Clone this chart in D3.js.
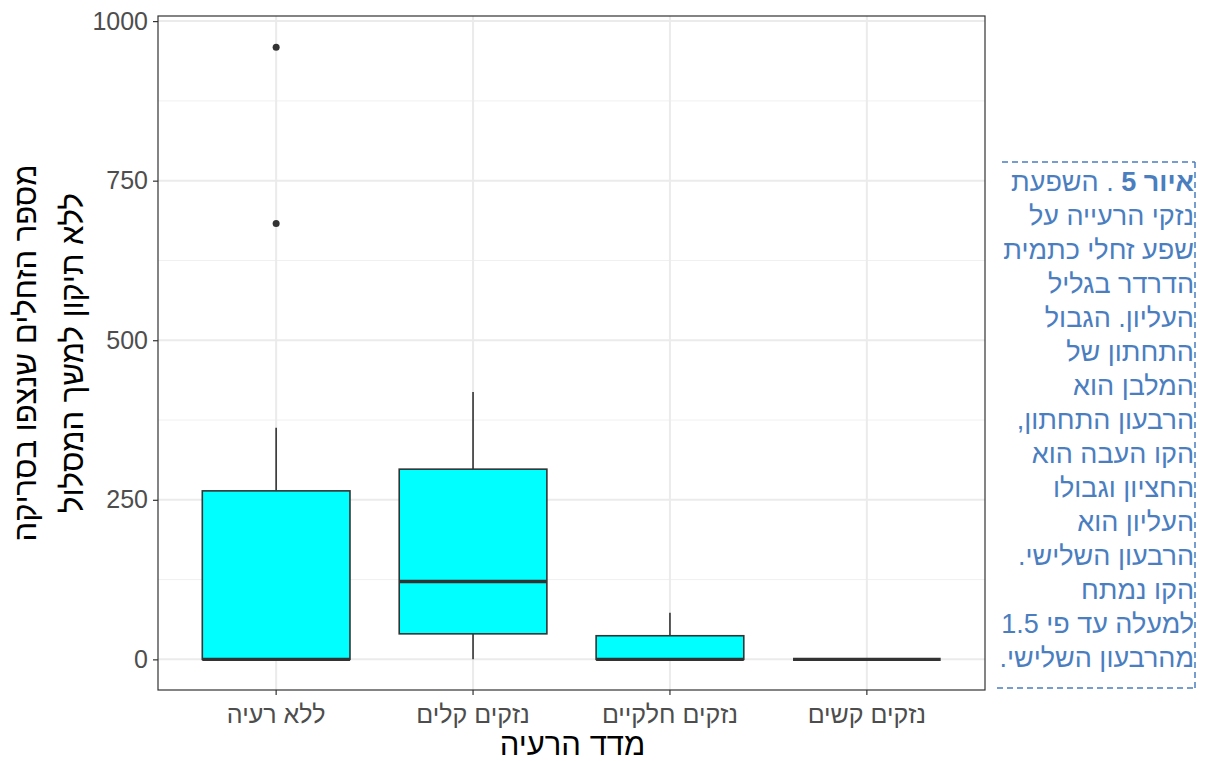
<!DOCTYPE html>
<html lang="he">
<head>
<meta charset="UTF-8">
<title>Grazing damage boxplot</title>
<script src="https://d3js.org/d3.v7.min.js"></script>
<style>
  body { margin: 0; background: #fff; }
  svg { display: block; }
</style>
</head>
<body>
<svg width="1207" height="761"></svg>
<script>
// data
const categories = ["ללא רעיה", "נזקים קלים", "נזקים חלקיים", "נזקים קשים"];
const whiskerLow = [0, 0, 0, 0];
const q1 = [0, 40, 0, 0];
const median = [0, 122, 0, 0];
const q3 = [264, 298, 37, 0];
const whiskerHigh = [363, 419, 73, 0];
const outliers = [[683, 959], [], [], []];
const yTicks = [0, 250, 500, 750, 1000];
const yMinor = [125, 375, 625, 875];

const xTitle = "מדד הרעיה";
const yTitle = ["מספר הזחלים שנצפו בסריקה", "ללא תיקון למשך המסלול"];
const captionBold = "איור 5";
const captionLines = [" . השפעת", "נזקי הרעייה על", "שפע זחלי כתמית", "הדרדר בגליל",
  "העליון. הגבול", "התחתון של", "המלבן הוא", "הרבעון התחתון,", "הקו העבה הוא",
  "החציון וגבולו", "העליון הוא", "הרבעון השלישי.", "הקו נמתח", "למעלה עד פי 1.5",
  "מהרבעון השלישי."];

const svg = d3.select("svg");
const panel = {left: 158, right: 985, top: 16, bottom: 690};
const font = "'Liberation Sans', Arial, sans-serif";

// ggplot style: each category one step, expansion 0.6 on each side
const step = (panel.right - panel.left) / (categories.length - 1 + 1.2);
const cx = i => panel.left + step * (0.6 + i);
const boxW = step * 0.75;

const y = d3.scaleLinear().domain([-48, 1008]).range([panel.bottom, panel.top]);

// grid
const grid = svg.append("g");
grid.selectAll(".minor").data(yMinor).join("line")
    .attr("x1", panel.left).attr("x2", panel.right)
    .attr("y1", d => y(d)).attr("y2", d => y(d))
    .attr("stroke", "#f0f0f0").attr("stroke-width", 1);
grid.selectAll(".major").data(yTicks).join("line")
    .attr("x1", panel.left).attr("x2", panel.right)
    .attr("y1", d => y(d)).attr("y2", d => y(d))
    .attr("stroke", "#ebebeb").attr("stroke-width", 2);
grid.selectAll(".vmajor").data(categories).join("line")
    .attr("x1", (d, i) => cx(i)).attr("x2", (d, i) => cx(i))
    .attr("y1", panel.top).attr("y2", panel.bottom)
    .attr("stroke", "#ebebeb").attr("stroke-width", 2);

// boxes
const boxes = svg.append("g").selectAll("g").data(categories).join("g");
boxes.append("line")
    .attr("x1", (d, i) => cx(i)).attr("x2", (d, i) => cx(i))
    .attr("y1", (d, i) => y(q3[i])).attr("y2", (d, i) => y(whiskerHigh[i]))
    .attr("stroke", "#333").attr("stroke-width", 1.6);
boxes.append("line")
    .attr("x1", (d, i) => cx(i)).attr("x2", (d, i) => cx(i))
    .attr("y1", (d, i) => y(q1[i])).attr("y2", (d, i) => y(whiskerLow[i]))
    .attr("stroke", "#333").attr("stroke-width", 1.6);
boxes.append("rect")
    .attr("x", (d, i) => cx(i) - boxW / 2).attr("width", boxW)
    .attr("y", (d, i) => y(q3[i]))
    .attr("height", (d, i) => y(q1[i]) - y(q3[i]))
    .attr("fill", "#00ffff").attr("stroke", "#333").attr("stroke-width", 1.6);
boxes.append("line")
    .attr("x1", (d, i) => cx(i) - boxW / 2).attr("x2", (d, i) => cx(i) + boxW / 2)
    .attr("y1", (d, i) => y(median[i])).attr("y2", (d, i) => y(median[i]))
    .attr("stroke", "#333").attr("stroke-width", 3.4);
boxes.each(function(d, i) {
  d3.select(this).selectAll("circle").data(outliers[i]).join("circle")
      .attr("cx", cx(i)).attr("cy", v => y(v)).attr("r", 3.5).attr("fill", "#333");
});

// panel border
svg.append("rect")
    .attr("x", panel.left).attr("y", panel.top)
    .attr("width", panel.right - panel.left).attr("height", panel.bottom - panel.top)
    .attr("fill", "none").attr("stroke", "#333").attr("stroke-width", 1.2);

// axes
const yAxis = svg.append("g").attr("transform", `translate(${panel.left},0)`)
    .call(d3.axisLeft(y).tickValues(yTicks).tickFormat(d3.format("d")).tickSize(5).tickPadding(5));
yAxis.select(".domain").remove();
yAxis.selectAll("line").attr("stroke", "#333").attr("stroke-width", 1.2);
yAxis.selectAll("text").attr("font-family", font).attr("font-size", 25).attr("fill", "#4d4d4d");

const xAxis = svg.append("g").attr("transform", `translate(0,${panel.bottom})`);
xAxis.selectAll("line").data(categories).join("line")
    .attr("x1", (d, i) => cx(i)).attr("x2", (d, i) => cx(i))
    .attr("y1", 0).attr("y2", 5).attr("stroke", "#333").attr("stroke-width", 1.2);
xAxis.selectAll("text").data(categories).join("text")
    .attr("x", (d, i) => cx(i)).attr("y", 33)
    .attr("text-anchor", "middle")
    .attr("font-family", font).attr("font-size", 25).attr("fill", "#4d4d4d")
    .text(d => d);

// titles
svg.append("text")
    .attr("x", (panel.left + panel.right) / 2 + 1).attr("y", 755)
    .attr("text-anchor", "middle")
    .attr("font-family", font).attr("font-size", 31).attr("fill", "#000")
    .text(xTitle);

svg.selectAll(".ytitle").data(yTitle).join("text")
    .attr("transform", (d, i) => `translate(${36 + i * 47},${(panel.top + panel.bottom) / 2}) rotate(-90)`)
    .attr("text-anchor", "middle")
    .attr("font-family", font).attr("font-size", 31).attr("fill", "#000")
    .text(d => d);

// caption box
const cap = {left: 997, right: 1195, top: 162, bottom: 688};
const capG = svg.append("g");
capG.append("line").attr("x1", cap.left + 5).attr("x2", cap.right)
    .attr("y1", cap.top).attr("y2", cap.top);
capG.append("line").attr("x1", cap.left).attr("x2", cap.right)
    .attr("y1", cap.bottom).attr("y2", cap.bottom);
capG.append("line").attr("x1", cap.right).attr("x2", cap.right)
    .attr("y1", cap.top).attr("y2", cap.bottom);
capG.selectAll("line").attr("stroke", "#4a7ebf").attr("stroke-width", 1.5)
    .attr("stroke-dasharray", "6,4");

const capText = capG.selectAll("text").data(captionLines).join("text")
    .attr("x", cap.right - 1).attr("y", (d, i) => 191 + i * 34)
    .attr("direction", "rtl").attr("text-anchor", "start")
    .attr("font-family", font).attr("font-size", 27).attr("fill", "#4a7ebf");
capText.each(function(d, i) {
  const t = d3.select(this);
  if (i === 0) {
    t.append("tspan").attr("font-weight", "bold").text(captionBold);
    t.append("tspan").text(d);
  } else {
    t.text(d);
  }
});
</script>
</body>
</html>
